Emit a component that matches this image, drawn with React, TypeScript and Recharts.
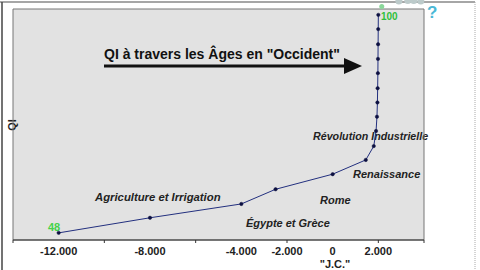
import { LineChart, Line, XAxis, YAxis, CartesianGrid, ReferenceArea, ReferenceDot } from "recharts";

// années (av./ap. J.-C.) et QI estimé
const years = [-12000, -8000, -4000, -2500, 0, 1450, 1800, 1900, 1940, 1960, 1970, 1980, 1985, 1990, 1995, 2000];
const iq = [48, 51.6, 54.9, 58.4, 62, 65.4, 68.7, 72.3, 75.7, 79.1, 82.5, 86.1, 89.5, 93, 96.6, 100];

// points "futurs" (décoratifs, au-dessus du cadre)
const futureYears = [2900, 3290, 3550, 3860];
const futureIq = [103.3, 103.4, 103.4, 103.3];

const tickValues = [-14000, -12000, -10000, -8000, -6000, -4000, -2000, 0, 2000, 4000];
const tickMarks = [-14000, -10000, -6000, -2000, 2000, 4000];
const tickLabels: Record<number, string> = {
  [-12000]: "-12.000",
  [-8000]: "-8.000",
  [-4000]: "-4.000",
  [-2000]: "-2.000",
  0: "0",
  2000: "2.000",
};

const data = years.map((y, i) => ({ year: y, qi: iq[i] }));

const font = "'Liberation Sans', Arial, sans-serif";

function XTick(props: any) {
  const { x, y, payload } = props;
  const v = payload.value;
  return (
    <g>
      {tickMarks.includes(v) && <line x1={x} x2={x} y1={y} y2={y + 3} stroke="#333" strokeWidth={1} />}
      {tickLabels[v] !== undefined && (
        <text x={x} y={y + 15} textAnchor="middle" fontFamily={font} fontWeight="bold" fontSize={11} fill="#222">
          {tickLabels[v]}
        </text>
      )}
    </g>
  );
}

const annoStyle = { fontFamily: font, fontWeight: "bold" as const, fontStyle: "italic" as const, fontSize: 11, fill: "#222" };

export default function App() {
  return (
    <div style={{ position: "fixed", left: 0, top: 0, width: 480, height: 270, background: "#fff" }}>
      <LineChart width={480} height={270} data={data} margin={{ top: 9, right: 56, left: 13, bottom: 0 }}>
        <CartesianGrid fill="#e2e2e2" horizontal={false} vertical={false} />
        <ReferenceArea x1={-14000} x2={4000} y1={46.3} y2={101.4} fill="none" stroke="#777" strokeWidth={1} fillOpacity={0} />
        <XAxis
          dataKey="year"
          type="number"
          domain={[-14000, 4000]}
          ticks={tickValues}
          interval={0}
          tick={<XTick />}
          tickLine={false}
          tickSize={0}
          tickMargin={0}
          height={30}
          axisLine={{ stroke: "#333" }}
        />
        <YAxis type="number" domain={[46.3, 101.4]} hide />

        {/* cadre extérieur */}
        <line x1={0} x2={475} y1={2} y2={2} stroke="#888" strokeWidth={1.5} />
        <line x1={2} x2={2} y1={2} y2={270} stroke="#444" strokeWidth={1.5} />
        <line x1={475} x2={475} y1={2} y2={270} stroke="#aaa" strokeWidth={1} strokeDasharray="1 1" />

        <Line
          dataKey="qi"
          stroke="#23307f"
          strokeWidth={1}
          dot={{ r: 1.7, fill: "#0d1040", stroke: "#0d1040", strokeWidth: 0.5 }}
          isAnimationActive={false}
        />
        <ReferenceDot x={2150} y={102} r={2.5} fill="#8ad89a" stroke="none" ifOverflow="visible" />
        <ReferenceDot x={futureYears[0]} y={futureIq[0]} r={3.5} fill="#bccaca" stroke="none" ifOverflow="visible" />
        <ReferenceDot x={futureYears[1]} y={futureIq[1]} r={3.5} fill="#bccaca" stroke="none" ifOverflow="visible" />
        <ReferenceDot x={futureYears[2]} y={futureIq[2]} r={3.5} fill="#bccaca" stroke="none" ifOverflow="visible" />
        <ReferenceDot x={futureYears[3]} y={futureIq[3]} r={3.5} fill="#bccaca" stroke="none" ifOverflow="visible" />

        <text x={104} y={58.5} fontFamily={font} fontWeight="bold" fontSize={14} fill="#111">
          QI à travers les Âges en "Occident"
        </text>
        <line x1={104} x2={348} y1={66} y2={66} stroke="#111" strokeWidth={3} />
        <polygon points="344,58 362,66 344,74" fill="#111" />

        <text x={11.5} y={125} transform="rotate(-90 11.5 125)" textAnchor="middle" dominantBaseline="central" fontFamily={font} fontWeight="bold" fontSize={11} fill="#222">
          QI
        </text>

        <text x={313} y={140} {...annoStyle} fontSize={10.7}>Révolution Industrielle</text>
        <text x={353} y={178} {...annoStyle}>Renaissance</text>
        <text x={95} y={201} {...annoStyle} fontSize={11.3}>Agriculture et Irrigation</text>
        <text x={320} y={204} {...annoStyle}>Rome</text>
        <text x={246} y={227} {...annoStyle}>Égypte et Grèce</text>

        <text x={48} y={231} fontFamily={font} fontWeight="bold" fontSize={11} fill="#44d24a">48</text>
        <text x={381} y={20} fontFamily={font} fontWeight="bold" fontSize={10} fill="#2fbf3a">100</text>
        <text x={427} y={18} fontFamily={font} fontWeight="bold" fontSize={17} fill="#4bb8d6">?</text>

        <text x={335} y={268} textAnchor="middle" fontFamily={font} fontWeight="bold" fontSize={11} fill="#222">"J.C."</text>
      </LineChart>
    </div>
  );
}
